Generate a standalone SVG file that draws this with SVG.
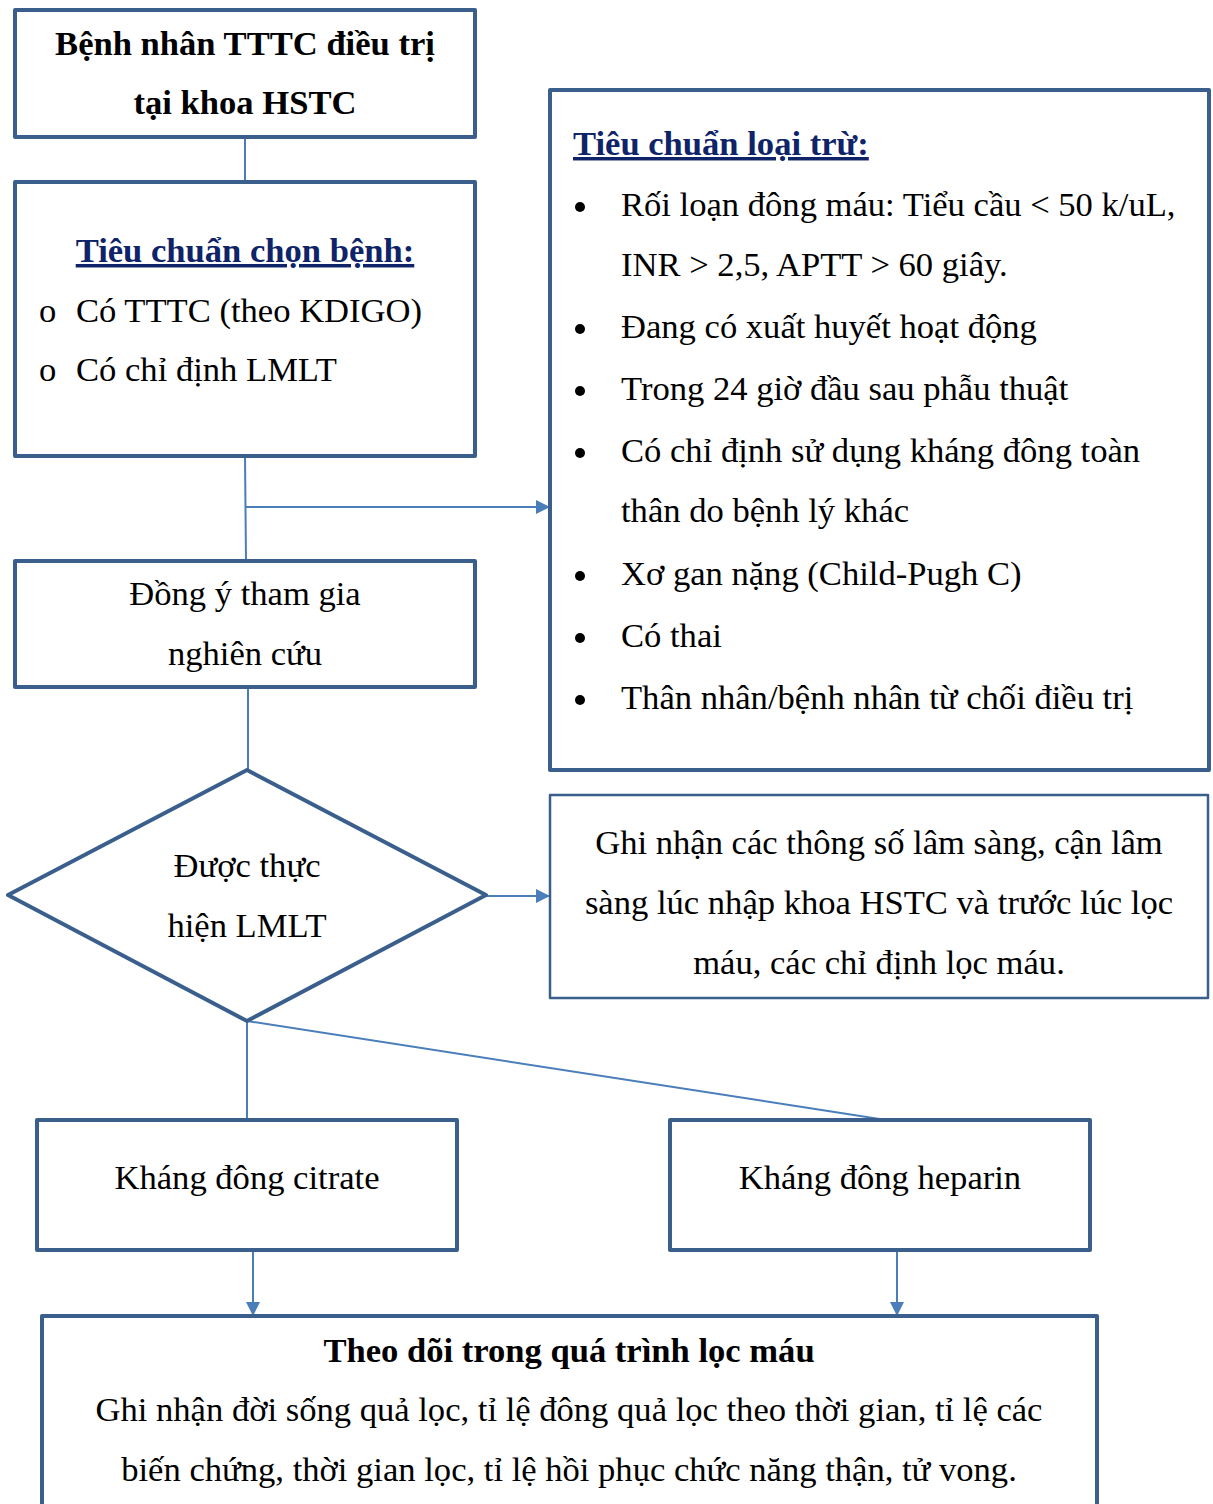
<svg xmlns="http://www.w3.org/2000/svg" width="1213" height="1504" viewBox="0 0 1213 1504">
<style>
.box{fill:#fff;stroke:#3A5F8D;stroke-width:4;stroke-linejoin:round}
.thin{stroke-width:2.5}
.con{fill:none;stroke:#4A7EBB;stroke-width:2}
text{font-family:"Liberation Serif","Times New Roman",serif;font-size:34.6px;fill:#000}
.b{font-weight:bold}
.c{text-anchor:middle}
.h{font-weight:bold;fill:#0F2369;text-decoration:underline}
</style>
<defs>
<marker id="a2" viewBox="0 0 10 10" refX="10" refY="5" markerWidth="14" markerHeight="14" orient="auto" markerUnits="userSpaceOnUse">
<path d="M0,0 L10,5 L0,10 z" fill="#4A7EBB"/>
</marker>
</defs>
<g id="connectors">
<line class="con" x1="245" y1="137" x2="245" y2="182"/>
<line class="con" x1="245" y1="456" x2="246" y2="561"/>
<line class="con" x1="246" y1="507" x2="550" y2="507" marker-end="url(#a2)"/>
<line class="con" x1="248" y1="687" x2="248" y2="770"/>
<line class="con" x1="486" y1="896" x2="550" y2="896" marker-end="url(#a2)"/>
<line class="con" x1="247" y1="1021" x2="247" y2="1120"/>
<line class="con" x1="247" y1="1021" x2="886" y2="1120"/>
<line class="con" x1="253" y1="1250" x2="253" y2="1316" marker-end="url(#a2)"/>
<line class="con" x1="897" y1="1250" x2="897" y2="1316" marker-end="url(#a2)"/>
</g>
<g id="n1">
<rect class="box" x="15" y="10" width="460" height="127"/>
<text class="b c" x="245" y="55">Bệnh nhân TTTC điều trị</text>
<text class="b c" x="245" y="114">tại khoa HSTC</text>
</g>
<g id="n2">
<rect class="box" x="15" y="182" width="460" height="274"/>
<text class="h c" x="245" y="262">Tiêu chuẩn chọn bệnh:</text>
<text x="39" y="322">o</text>
<text x="76" y="322">Có TTTC (theo KDIGO)</text>
<text x="39" y="381">o</text>
<text x="76" y="381">Có chỉ định LMLT</text>
</g>
<g id="n3">
<rect class="box" x="15" y="561" width="460" height="126"/>
<text class="c" x="245" y="605">Đồng ý tham gia</text>
<text class="c" x="245" y="665">nghiên cứu</text>
</g>
<g id="n4">
<polygon class="box" points="8,895 247,770 486,895 247,1021"/>
<text class="c" x="247" y="877">Được thực</text>
<text class="c" x="247" y="937">hiện LMLT</text>
</g>
<g id="n5">
<rect class="box" x="550" y="90" width="659" height="680"/>
<text class="h" x="573" y="155">Tiêu chuẩn loại trừ:</text>
<g>
<circle cx="580" cy="207" r="5"/><text x="621" y="216">Rối loạn đông máu: Tiểu cầu &lt; 50 k/uL,</text>
<text x="621" y="276">INR &gt; 2,5, APTT &gt; 60 giây.</text>
<circle cx="580" cy="329" r="5"/><text x="621" y="338">Đang có xuất huyết hoạt động</text>
<circle cx="580" cy="391" r="5"/><text x="621" y="400">Trong 24 giờ đầu sau phẫu thuật</text>
<circle cx="580" cy="453" r="5"/><text x="621" y="462">Có chỉ định sử dụng kháng đông toàn</text>
<text x="621" y="522">thân do bệnh lý khác</text>
<circle cx="580" cy="576" r="5"/><text x="621" y="585">Xơ gan nặng (Child-Pugh C)</text>
<circle cx="580" cy="638" r="5"/><text x="621" y="647">Có thai</text>
<circle cx="580" cy="700" r="5"/><text x="621" y="709">Thân nhân/bệnh nhân từ chối điều trị</text>
</g>
</g>
<g id="n6">
<rect class="box thin" x="550" y="795" width="658" height="203"/>
<text class="c" x="879" y="854">Ghi nhận các thông số lâm sàng, cận lâm</text>
<text class="c" x="879" y="914">sàng lúc nhập khoa HSTC và trước lúc lọc</text>
<text class="c" x="879" y="974">máu, các chỉ định lọc máu.</text>
</g>
<g id="n7">
<rect class="box" x="37" y="1120" width="420" height="130"/>
<text class="c" x="247" y="1189">Kháng đông citrate</text>
</g>
<g id="n8">
<rect class="box" x="670" y="1120" width="420" height="130"/>
<text class="c" x="880" y="1189">Kháng đông heparin</text>
</g>
<g id="n9">
<rect class="box" x="42" y="1316" width="1055" height="220"/>
<text class="b c" x="569" y="1362">Theo dõi trong quá trình lọc máu</text>
<text class="c" x="569" y="1421">Ghi nhận đời sống quả lọc, tỉ lệ đông quả lọc theo thời gian, tỉ lệ các</text>
<text class="c" x="569" y="1481">biến chứng, thời gian lọc, tỉ lệ hồi phục chức năng thận, tử vong.</text>
</g>
</svg>
